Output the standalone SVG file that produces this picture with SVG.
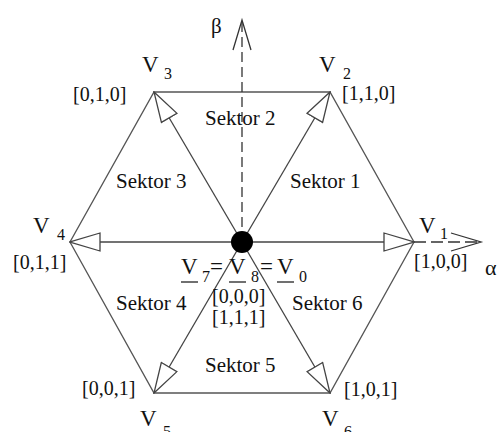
<svg xmlns="http://www.w3.org/2000/svg" width="497" height="432" viewBox="0 0 497 432" font-family="'Liberation Serif', 'Times New Roman', serif">
<style>
text{font-family:'Liberation Serif','Times New Roman',serif;fill:#111}
.v{font-size:23px}
.s{font-size:16px}
.b{font-size:20px}
.k{font-size:21px}
.edge{stroke:#555;stroke-width:1.3;fill:none}
.vec{stroke:#444;stroke-width:1.3;fill:none;marker-end:url(#tri)}
.axis{stroke:#333;stroke-width:1.3;fill:none;stroke-dasharray:10 5}
.u{stroke:#111;stroke-width:1.2}
</style>
<defs>
<marker id="tri" markerUnits="userSpaceOnUse" viewBox="-1 -1 32 20" refX="30" refY="9" markerWidth="32" markerHeight="20" orient="auto">
<path d="M0,0 L30,9 L0,18 Z" fill="#fff" stroke="#444" stroke-width="1.3"/>
</marker>
</defs>
<g id="connectors">
<path class="edge" d="M154,92 L330,92 L414,242 L330,393 L154,393 L70,242 Z"/>
<line class="axis" x1="242" y1="242" x2="242" y2="21"/>
<polyline class="edge" points="233,50 242,20 251,50" style="stroke:#333"/>
<line class="axis" x1="414" y1="242" x2="480" y2="242" style="stroke-dasharray:12 5"/>
<polyline class="edge" points="451,233 481,242 451,251" style="stroke:#333"/>
<line class="vec" x1="242" y1="242" x2="414" y2="242"/>
<line class="vec" x1="242" y1="242" x2="330" y2="92"/>
<line class="vec" x1="242" y1="242" x2="154" y2="92"/>
<line class="vec" x1="242" y1="242" x2="70" y2="242"/>
<line class="vec" x1="242" y1="242" x2="154" y2="393"/>
<line class="vec" x1="242" y1="242" x2="330" y2="393"/>
</g>
<g id="origin">
<circle cx="242" cy="242" r="11" fill="#000"/>
<text class="v" x="181" y="274">V</text><line class="u" x1="181" y1="282" x2="198" y2="282"/>
<text class="s" x="202" y="282">7</text>
<text class="v" x="210" y="274">=</text>
<text class="v" x="229" y="274">V</text><line class="u" x1="229" y1="282" x2="246" y2="282"/>
<text class="s" x="251" y="282">8</text>
<text class="v" x="260" y="274">=</text>
<text class="v" x="277" y="274">V</text><line class="u" x1="277" y1="282" x2="294" y2="282"/>
<text class="s" x="299" y="282">0</text>
<text class="b" x="212" y="303">[0,0,0]</text>
<text class="b" x="212" y="324">[1,1,1]</text>
</g>
<g id="V1">
<text class="v" x="419" y="233">V</text><text class="s" x="440" y="239">1</text>
<text class="b" x="414" y="268">[1,0,0]</text>
</g>
<g id="V2">
<text class="v" x="319" y="72">V</text><text class="s" x="343" y="79">2</text>
<text class="b" x="342" y="100">[1,1,0]</text>
</g>
<g id="V3">
<text class="v" x="142" y="72">V</text><text class="s" x="164" y="79">3</text>
<text class="b" x="73" y="101">[0,1,0]</text>
</g>
<g id="V4">
<text class="v" x="33" y="233">V</text><text class="s" x="57" y="240">4</text>
<text class="b" x="13" y="269">[0,1,1]</text>
</g>
<g id="V5">
<text class="v" x="140" y="426">V</text><text class="s" x="163" y="437">5</text>
<text class="b" x="82" y="395">[0,0,1]</text>
</g>
<g id="V6">
<text class="v" x="322" y="426">V</text><text class="s" x="344" y="437">6</text>
<text class="b" x="344" y="396">[1,0,1]</text>
</g>
<g id="labels">
<text x="211" y="33" style="font-size:21px">β</text>
<text x="485" y="275" style="font-size:22px">α</text>
<text class="k" x="205" y="125">Sektor 2</text>
<text class="k" x="290" y="188">Sektor 1</text>
<text class="k" x="116" y="188">Sektor 3</text>
<text class="k" x="116" y="310">Sektor 4</text>
<text class="k" x="292" y="310">Sektor 6</text>
<text class="k" x="205" y="372">Sektor 5</text>
</g>
</svg>
